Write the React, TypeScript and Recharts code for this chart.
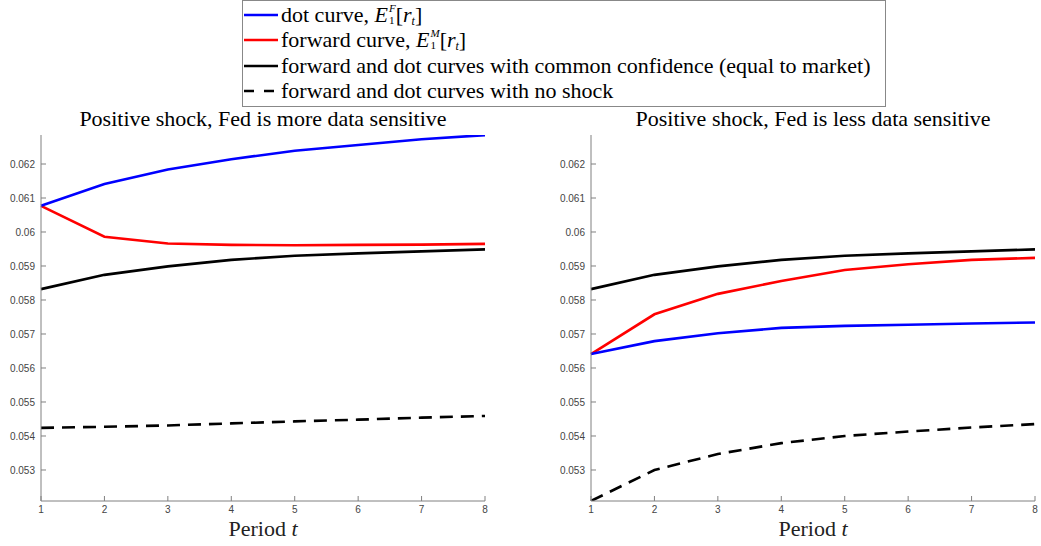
import React from 'react';
import { LineChart, Line, XAxis, YAxis } from 'recharts';

// periods on the horizontal axis
const periods = [1, 2, 3, 4, 5, 6, 7, 8];

// left panel: Fed is more data sensitive
const leftDot = [0.06077, 0.06141, 0.06184, 0.06214, 0.06239, 0.06256, 0.06273, 0.06285];
const leftForward = [0.06077, 0.05986, 0.05966, 0.05962, 0.05961, 0.05962, 0.05963, 0.05965];
const leftNoShock = [0.05424, 0.05427, 0.05431, 0.05437, 0.05443, 0.05448, 0.05454, 0.05459];

// common confidence curve (same in both panels)
const commonCurve = [0.05832, 0.05874, 0.05899, 0.05918, 0.0593, 0.05937, 0.05943, 0.05949];

// right panel: Fed is less data sensitive
const rightDot = [0.05641, 0.05679, 0.05702, 0.05718, 0.05724, 0.05727, 0.05731, 0.05734];
const rightForward = [0.05641, 0.05758, 0.05818, 0.05856, 0.05888, 0.05905, 0.05918, 0.05924];
const rightNoShock = [0.05209, 0.053, 0.05347, 0.05379, 0.054, 0.05413, 0.05425, 0.05435];

const yTicks = [0.053, 0.054, 0.055, 0.056, 0.057, 0.058, 0.059, 0.06, 0.061, 0.062];
const yDomain = [0.052088, 0.062853];

const SERIF = '"Liberation Serif", "DejaVu Serif", serif';
const SANS = '"Liberation Sans", Arial, sans-serif';
const AXIS_GRAY = '#808080';

const fmt = (v: number) => String(+v.toFixed(3));

function buildRows(dot: number[], fwd: number[], common: number[], noShock: number[]) {
  return periods.map((p, i) => ({ t: p, dot: dot[i], fwd: fwd[i], common: common[i], noShock: noShock[i] }));
}

interface PanelProps {
  left: number;
  title: string;
  rows: ReturnType<typeof buildRows>;
}

function Panel({ left, title, rows }: PanelProps) {
  const tick = { fill: '#444', fontSize: 10, fontFamily: SANS };
  return (
    <div style={{ position: 'absolute', left, top: 110, width: 520, height: 436 }}>
      <div
        style={{
          position: 'absolute', left: 0, width: 526, top: -4, textAlign: 'center',
          fontFamily: SERIF, fontSize: 22, color: '#000', whiteSpace: 'nowrap',
        }}
      >
        {title}
      </div>
      <LineChart width={520} height={436} data={rows} margin={{ top: 25, right: 35, bottom: 0, left: 0 }}>
        <XAxis
          dataKey="t"
          type="number"
          domain={[1, 8]}
          ticks={periods}
          tickSize={-5}
          tickMargin={10}
          tick={tick}
          height={45}
          axisLine={{ stroke: AXIS_GRAY, strokeWidth: 1 }}
          tickLine={{ stroke: AXIS_GRAY }}
        />
        <YAxis
          type="number"
          domain={yDomain}
          allowDataOverflow
          ticks={yTicks}
          tickFormatter={fmt}
          tickSize={-5}
          tickMargin={11}
          tick={tick}
          width={41}
          axisLine={{ stroke: AXIS_GRAY, strokeWidth: 1 }}
          tickLine={{ stroke: AXIS_GRAY }}
        />
        <Line dataKey="noShock" stroke="#000" strokeWidth={2.6} strokeDasharray="13 8" dot={false} isAnimationActive={false} />
        <Line dataKey="common" stroke="#000" strokeWidth={2.6} dot={false} isAnimationActive={false} />
        <Line dataKey="fwd" stroke="#ff0000" strokeWidth={2.6} dot={false} isAnimationActive={false} />
        <Line dataKey="dot" stroke="#0000ff" strokeWidth={2.6} dot={false} isAnimationActive={false} />
      </LineChart>
      <div
        style={{
          position: 'absolute', left: 41, width: 444, top: 408, textAlign: 'center',
          fontFamily: SERIF, fontSize: 22, lineHeight: '22px', color: '#222',
        }}
      >
        Period <i>t</i>
      </div>
    </div>
  );
}

function Sample({ color, dashed }: { color: string; dashed?: boolean }) {
  return (
    <svg width={36} height={10} style={{ marginRight: 2 }}>
      <line x1={1} y1={5} x2={35} y2={5} stroke={color} strokeWidth={2.6} strokeDasharray={dashed ? '10 10' : undefined} />
    </svg>
  );
}

function MathE({ sup }: { sup: string }) {
  return (
    <span style={{ whiteSpace: 'nowrap', display: 'inline-flex', alignItems: 'center' }}>
      <i>E</i>
      <span style={{ display: 'inline-flex', flexDirection: 'column', fontSize: 11, lineHeight: '12px', marginLeft: 1, marginTop: -2 }}>
        <i>{sup}</i>
        <span>1</span>
      </span>
      <span>[<i>r</i></span>
      <i style={{ fontSize: 12, lineHeight: '12px', alignSelf: 'flex-end', marginBottom: 1 }}>t</i>
      <span>]</span>
    </span>
  );
}

function Legend() {
  const row: React.CSSProperties = { display: 'flex', alignItems: 'center', height: 25.5 };
  return (
    <div
      style={{
        position: 'absolute', left: 242, top: 0, width: 642, height: 104,
        border: '1px solid #888', background: '#fff', fontFamily: SERIF, fontSize: 22,
        color: '#000', boxSizing: 'content-box', paddingTop: 1,
      }}
    >
      <div style={row}><Sample color="#0000ff" />dot curve,&nbsp;<MathE sup="F" /></div>
      <div style={row}><Sample color="#ff0000" />forward curve,&nbsp;<MathE sup="M" /></div>
      <div style={row}><Sample color="#000" />forward and dot curves with common confidence (equal to market)</div>
      <div style={row}><Sample color="#000" dashed />forward and dot curves with no shock</div>
    </div>
  );
}

export default function App() {
  const leftRows = buildRows(leftDot, leftForward, commonCurve, leftNoShock);
  const rightRows = buildRows(rightDot, rightForward, commonCurve, rightNoShock);
  return (
    <div style={{ position: 'absolute', left: 0, top: 0, width: 1041, height: 546, background: '#fff', overflow: 'hidden' }}>
      <Panel left={0} title="Positive shock, Fed is more data sensitive" rows={leftRows} />
      <Panel left={550} title="Positive shock, Fed is less data sensitive" rows={rightRows} />
      <Legend />
    </div>
  );
}
